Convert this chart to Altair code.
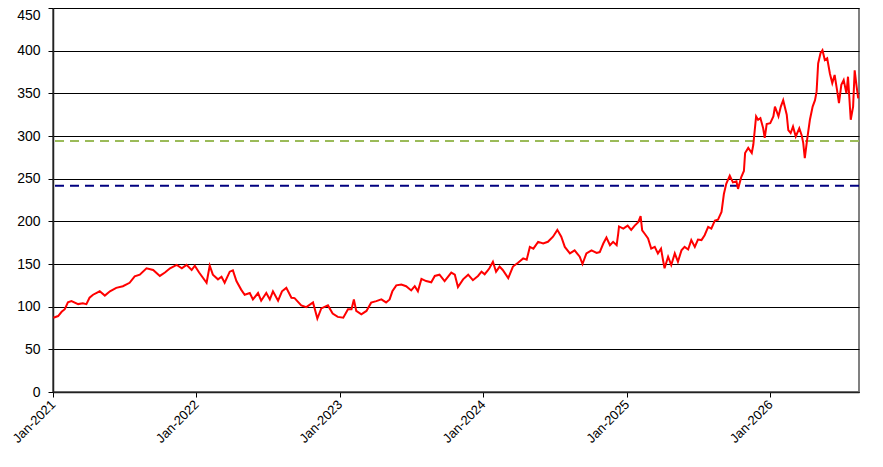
import altair as alt
import pandas as pd

dates = [
    "2021-01-02", "2021-01-14", "2021-01-23", "2021-01-31", "2021-02-08", "2021-02-17",
    "2021-03-06", "2021-03-18", "2021-03-27", "2021-04-04", "2021-04-13", "2021-04-30",
    "2021-05-13", "2021-05-26", "2021-06-11", "2021-06-28", "2021-07-15", "2021-07-28",
    "2021-08-10", "2021-08-27", "2021-09-13", "2021-09-30", "2021-10-13", "2021-10-26",
    "2021-11-12", "2021-11-25", "2021-12-07", "2021-12-20", "2021-12-28",
    "2022-01-08", "2022-01-27", "2022-02-04", "2022-02-12", "2022-02-25", "2022-03-06",
    "2022-03-14", "2022-03-27", "2022-04-04", "2022-04-13", "2022-04-25", "2022-05-04",
    "2022-05-17", "2022-05-25", "2022-06-07", "2022-06-15", "2022-06-28", "2022-07-07",
    "2022-07-15", "2022-07-28", "2022-08-07", "2022-08-18", "2022-08-31", "2022-09-08",
    "2022-09-25", "2022-10-08", "2022-10-25", "2022-11-05", "2022-11-15", "2022-12-02",
    "2022-12-14", "2022-12-27",
    "2023-01-10", "2023-01-22", "2023-01-31", "2023-02-06", "2023-02-12", "2023-02-25",
    "2023-03-10", "2023-03-22", "2023-04-04", "2023-04-17", "2023-04-29", "2023-05-08",
    "2023-05-15", "2023-05-25", "2023-06-07", "2023-06-19", "2023-07-02", "2023-07-11",
    "2023-07-19", "2023-07-28", "2023-08-09", "2023-08-22", "2023-08-31", "2023-09-12",
    "2023-09-25", "2023-10-12", "2023-10-21", "2023-10-29", "2023-11-11", "2023-11-24",
    "2023-12-06", "2023-12-19", "2023-12-28",
    "2024-01-05", "2024-01-13", "2024-01-17", "2024-01-26", "2024-02-03", "2024-02-12",
    "2024-02-20", "2024-03-05", "2024-03-17", "2024-03-30", "2024-04-12", "2024-04-21",
    "2024-04-29", "2024-05-08", "2024-05-20", "2024-06-02", "2024-06-14", "2024-06-27",
    "2024-07-08", "2024-07-18", "2024-07-27", "2024-08-09", "2024-08-21", "2024-09-03",
    "2024-09-10", "2024-09-20", "2024-10-03", "2024-10-16", "2024-10-24", "2024-11-02",
    "2024-11-10", "2024-11-19", "2024-11-27", "2024-12-06", "2024-12-10", "2024-12-12",
    "2024-12-23",
    "2025-01-03", "2025-01-12", "2025-01-21", "2025-01-30", "2025-02-05", "2025-02-09",
    "2025-02-15", "2025-02-24", "2025-03-04", "2025-03-13", "2025-03-21", "2025-03-29",
    "2025-04-03", "2025-04-07", "2025-04-16", "2025-04-24", "2025-05-03", "2025-05-11",
    "2025-05-20", "2025-05-28", "2025-06-06", "2025-06-14", "2025-06-23", "2025-07-01",
    "2025-07-10", "2025-07-18", "2025-07-27", "2025-08-04", "2025-08-13", "2025-08-21",
    "2025-08-30", "2025-09-05", "2025-09-11", "2025-09-20", "2025-09-28", "2025-10-07",
    "2025-10-11", "2025-10-19", "2025-10-26", "2025-10-29", "2025-11-06", "2025-11-15",
    "2025-11-19", "2025-11-26", "2025-12-01", "2025-12-07", "2025-12-14", "2025-12-18",
    "2025-12-23",
    "2026-01-01", "2026-01-09", "2026-01-13", "2026-01-22", "2026-01-28", "2026-02-03",
    "2026-02-12", "2026-02-16", "2026-02-22", "2026-02-28", "2026-03-07", "2026-03-16",
    "2026-03-22", "2026-03-26", "2026-03-30", "2026-04-05", "2026-04-12", "2026-04-19",
    "2026-04-25", "2026-04-29", "2026-05-03", "2026-05-09", "2026-05-14", "2026-05-20",
    "2026-05-26", "2026-06-02", "2026-06-08", "2026-06-14", "2026-06-20", "2026-06-25",
    "2026-07-01", "2026-07-07", "2026-07-14", "2026-07-18", "2026-07-25", "2026-07-31",
    "2026-08-04", "2026-08-09", "2026-08-13",
]

prices = [
    87, 89, 94, 97, 105, 106.5,
    103, 104, 103, 110.5, 114, 118,
    113, 118, 122, 124, 128, 135.6,
    137.5, 145, 143, 136, 140, 145,
    149, 145, 149, 143, 148,
    140, 128, 148, 137.5, 132, 135,
    128, 141, 142.5, 130, 120, 114,
    116, 108.5, 116, 107, 116, 108.5,
    118, 107, 118, 122, 110.5, 110,
    101.5, 99.5, 105, 86, 98, 101.5,
    92, 88,
    87, 97, 97, 108.5, 95, 91,
    95, 104.7, 106.5, 108.5, 105, 108.5,
    118, 125, 126, 124, 119, 124,
    118, 132.5, 130, 128.6, 136, 137.5,
    130, 140, 137.5, 123, 132, 137.5,
    131, 136, 141,
    138, 142.5, 145, 152.7, 141, 147,
    143, 133.4, 147, 151.5, 156.6, 155,
    170, 168, 176, 174, 176, 182,
    190, 182, 170, 162.4, 166, 158.5,
    150, 162.4, 166, 163, 164, 174,
    181, 172, 176, 172, 185.7, 194,
    191.5,
    195, 190, 195, 199, 206, 189.5,
    185.7, 180, 168, 170, 162.4, 168,
    154.7, 145, 158.5, 148.8, 162.4, 152.7,
    166, 170, 167, 178, 170, 178.7,
    178, 183.7, 193.4, 191.5, 201, 202,
    211, 232, 244, 253.5, 245.7, 247,
    238, 251.5, 259, 280, 286, 280,
    290, 323, 319, 321, 309, 297.7,
    314,
    315, 323, 334.5, 323, 334.5, 342,
    325, 307, 303.5, 311, 299.5, 309,
    301, 292, 274, 296, 319, 334.5,
    342, 352, 385, 397, 400.6, 389,
    391, 373, 362, 371.5, 354, 338.5,
    360, 365.6, 350, 369.5, 319, 334.5,
    377, 358, 344,
]

level_values = [294, 241.8]
level_colors = ["#9BBB59", "#000080"]
x_domain = ["2021-01-01", "2026-08-15"]
tick_years = [2021, 2022, 2023, 2024, 2025, 2026]
y_ticks = [0, 50, 100, 150, 200, 250, 300, 350, 400, 450]

df = pd.DataFrame({"date": dates, "price": prices})
levels = pd.DataFrame({"level": level_values, "color": level_colors})

x_enc = alt.X(
    "date:T",
    scale=alt.Scale(type="utc", domain=x_domain, nice=False),
    axis=alt.Axis(
        title=None,
        values=[alt.DateTime(year=y, month=1, date=1, utc=True) for y in tick_years],
        labelExpr="utcFormat(datum.value, '%b-%Y')",
        labelAngle=-45,
        labelAlign="right",
        labelBaseline="middle",
        labelFont="Liberation Sans",
        labelFontSize=13,
        labelColor="#000000",
        labelPadding=5,
        tickColor="#000000",
        tickSize=5,
        domainColor="#222222",
        domainWidth=1.5,
        grid=False,
    ),
)

y_scale = alt.Scale(domain=[0, 450], nice=False, zero=True)

line = alt.Chart(df).mark_line(color="#FF0000", strokeWidth=2).encode(
    x=x_enc,
    y=alt.Y(
        "price:Q",
        scale=y_scale,
        axis=alt.Axis(
            title=None,
            values=y_ticks,
            labelFont="Liberation Sans",
            labelFontSize=14,
            labelColor="#000000",
            labelPadding=8,
            labelOffset={"condition": {"test": "datum.value == 450", "value": 7}, "value": 0},
            tickColor="#000000",
            tickSize=5,
            domainColor="#222222",
            domainWidth=1.5,
            grid=True,
            gridColor="#000000",
            gridWidth=1,
            gridOpacity=1,
        ),
    ),
)

rules = alt.Chart(levels).mark_rule(strokeWidth=2, strokeDash=[9, 6]).encode(
    y=alt.Y("level:Q", scale=y_scale),
    color=alt.Color("color:N", scale=None, legend=None),
)

chart = (
    alt.layer(rules, line)
    .properties(
        width=806,
        height=384,
        autosize=alt.AutoSizeParams(type="none"),
        padding={"left": 45, "top": 0, "right": 16, "bottom": 70},
    )
    .configure_view(stroke="#808080", strokeWidth=2)
)

chart.save("out.html", embed_options={"renderer": "svg", "actions": False})
